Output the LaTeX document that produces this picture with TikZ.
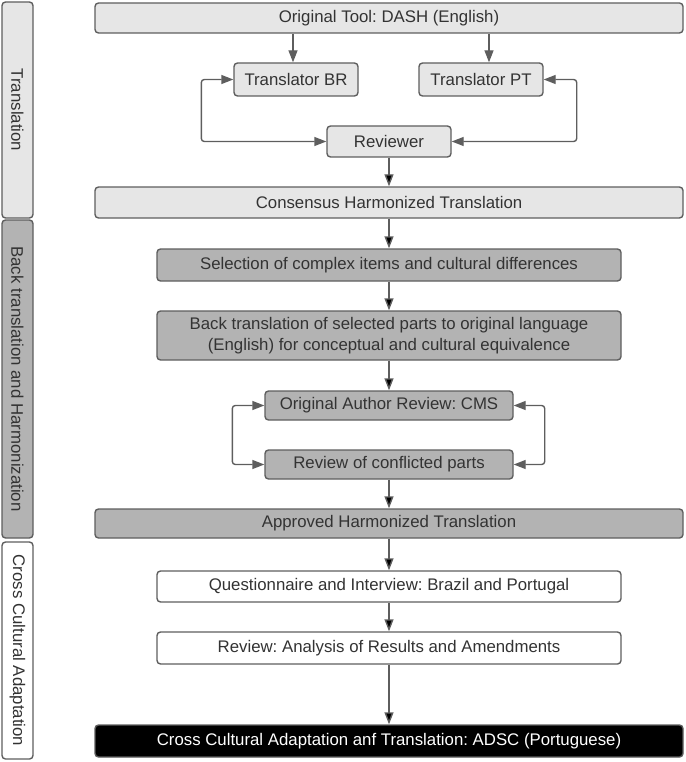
\documentclass[tikz,border=0pt]{standalone}
\usepackage{fontspec}
\setmainfont{Liberation Sans}
\usetikzlibrary{positioning,arrows.meta}
\definecolor{boxline}{HTML}{5E5E5E}
\definecolor{boxtext}{HTML}{333333}
\definecolor{lightfill}{HTML}{E6E6E6}
\definecolor{darkfill}{HTML}{B3B3B3}
\frenchspacing

\begin{document}
\begin{tikzpicture}[x=1pt,y=1pt,on grid,
  >={Triangle[length=12pt,width=9pt]},
  every node/.style={font=\fontsize{16.8}{21}\selectfont, text=boxtext},
  box/.style={draw=boxline, line width=1.4pt, rounded corners=3.5pt, inner sep=0pt, align=center},
  lightbox/.style={box, fill=lightfill},
  darkbox/.style={box, fill=darkfill},
  whitebox/.style={box, fill=white},
  blackbox/.style={box, fill=black, text=white},
  sidebar/.style={box, rotate=-90, minimum height=31pt},
  link/.style={draw=boxline, line width=1.4pt}]
\useasboundingbox (0,0) rectangle (685,-762);

% phase bars
\node[sidebar, fill=lightfill, minimum width=216pt] (p_trans) at (17.5,-110) {Translation};
\node[sidebar, fill=darkfill, minimum width=318pt] (p_back) at (17.5,-379) {Back translation and Harmonization};
\node[sidebar, fill=white, minimum width=217pt] (p_cross) at (17.5,-650.5) {Cross Cultural Adaptation};

% translation
\node[lightbox, minimum width=588pt, minimum height=30pt] (t_orig) at (389,-18) {Original Tool: DASH (English)};
\node[lightbox, minimum width=124pt, minimum height=33pt] (t_br) [below left=61.5pt and 93pt of t_orig] {Translator BR};
\node[lightbox, minimum width=124pt, minimum height=33pt] (t_pt) [right=185pt of t_br] {Translator PT};
\node[lightbox, minimum width=124pt, minimum height=31pt] (t_rev) [below=123.5pt of t_orig] {Reviewer};
\node[lightbox, minimum width=588pt, minimum height=31pt] (t_cons) [below=61pt of t_rev] {Consensus Harmonized Translation};

% back translation
\node[darkbox, minimum width=464pt, minimum height=32pt] (b_sel) [below=62.5pt of t_cons] {Selection of complex items and cultural differences};
\node[darkbox, minimum width=464pt, minimum height=49pt] (b_back) [below=70.5pt of b_sel] {Back translation of selected parts to original language\\(English) for conceptual and cultural equivalence};
\node[darkbox, minimum width=248pt, minimum height=29pt] (b_auth) [below=70pt of b_back] {Original Author Review: CMS};
\node[darkbox, minimum width=248pt, minimum height=29pt] (b_conf) [below=59pt of b_auth] {Review of conflicted parts};
\node[darkbox, minimum width=588pt, minimum height=29pt] (b_appr) [below=59pt of b_conf] {Approved Harmonized Translation};

% cross cultural adaptation
\node[whitebox, minimum width=464pt, minimum height=31pt] (c_quest) [below=63pt of b_appr] {Questionnaire and Interview: Brazil and Portugal};
\node[whitebox, minimum width=464pt, minimum height=32pt] (c_anal) [below=61.5pt of c_quest] {Review: Analysis of Results and Amendments};
\node[blackbox, minimum width=588pt, minimum height=32pt] (c_final) [below=93pt of c_anal] {Cross Cultural Adaptation anf Translation: ADSC (Portuguese)};

% arrow feet on the translators
\coordinate (inbr) at ([xshift=-3pt]t_br.north);
\coordinate (inport) at ([xshift=8pt]t_pt.north);
\draw[->, link] (t_orig.south -| inbr) -- (inbr);
\draw[->, link] (t_orig.south -| inport) -- (inport);

\path[->, link]
(t_rev) edge (t_cons)
(t_cons) edge (b_sel)
(b_sel) edge (b_back)
(b_back) edge (b_auth)
(b_conf) edge (b_appr)
(b_appr) edge (c_quest)
(c_quest) edge (c_anal)
(c_anal) edge (c_final)
; %end path

% review loops
\draw[<->, link, rounded corners=3pt] (t_br.west) -- ++(-32,0) |- (t_rev.west);
\draw[<->, link, rounded corners=3pt] (t_pt.east) -- ++(33,0) |- (t_rev.east);
\draw[<->, link, rounded corners=3pt] (b_auth.west) -- ++(-32,0) |- (b_conf.west);
\draw[<->, link, rounded corners=3pt] (b_auth.east) -- ++(31,0) |- (b_conf.east);
\end{tikzpicture}
\end{document}
